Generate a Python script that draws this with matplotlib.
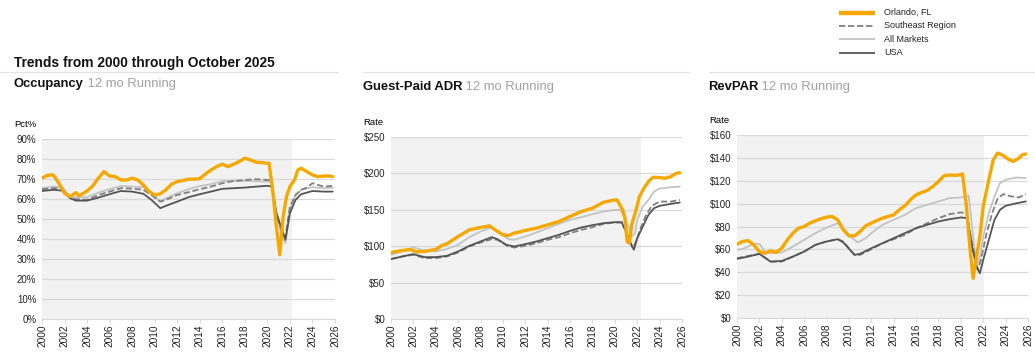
import matplotlib
matplotlib.use("Agg")
import matplotlib.pyplot as plt
from matplotlib.lines import Line2D

plt.rcParams["font.family"] = ["Liberation Sans", "DejaVu Sans"]

# --- data (decimal year, value) ---
# Occupancy (%)
occ_orl_yr = [2000, 2000.5, 2001, 2001.5, 2002, 2002.5, 2003, 2003.3, 2004, 2004.5, 2005, 2005.5,
              2006, 2006.5, 2007, 2007.5, 2008, 2008.5, 2009, 2009.5, 2010, 2010.5, 2011, 2011.5,
              2012, 2012.5, 2013, 2013.5, 2014, 2014.5, 2015, 2015.5, 2016, 2016.5, 2017, 2017.5,
              2018, 2018.5, 2019, 2019.5, 2020, 2020.15, 2020.5, 2020.8, 2021.1, 2021.4, 2021.7,
              2022, 2022.4, 2022.7, 2023, 2023.5, 2024, 2024.5, 2025, 2025.5, 2025.8]
occ_orl = [70.4, 71.9, 72.0, 67.9, 62.9, 61.2, 63.2, 61.6, 64.0, 66.5, 70.4, 73.7,
           71.5, 71.2, 69.5, 69.5, 70.4, 69.5, 67.0, 63.7, 62.0, 62.6, 64.6, 67.4,
           68.7, 69.2, 69.9, 69.9, 70.2, 72.5, 74.5, 76.2, 77.4, 76.2, 77.4, 78.7,
           80.4, 79.5, 78.4, 78.2, 77.9, 77.9, 62.9, 46.3, 32.1, 51.2, 61.2,
           66.2, 69.5, 74.5, 75.4, 73.7, 72.0, 71.2, 71.5, 71.5, 71.2]
occ_se_yr = [2000, 2001, 2001.7, 2002.5, 2003, 2004, 2005, 2006, 2007, 2008, 2009, 2009.7, 2010.5,
             2011, 2012, 2013, 2014, 2015, 2016, 2017, 2018, 2019, 2020, 2020.3, 2020.7, 2021.3,
             2021.6, 2022, 2022.5, 2023, 2023.5, 2024, 2024.5, 2025, 2025.8]
occ_se = [64.9, 65.4, 65.4, 60.4, 59.9, 59.6, 62.0, 63.7, 65.4, 65.2, 64.6, 62.0, 58.7,
          59.6, 62.0, 63.4, 64.9, 66.2, 67.9, 69.0, 69.5, 69.9, 69.5, 69.5, 54.6, 42.9,
          41.3, 56.2, 62.0, 64.6, 65.7, 67.9, 67.0, 66.2, 66.6]
occ_all_yr = [2000, 2001, 2001.8, 2002.5, 2003, 2004, 2005, 2006, 2007, 2008, 2009, 2009.7, 2010.5,
              2011, 2012, 2013, 2014, 2015, 2016, 2017, 2018, 2019, 2020, 2020.4, 2020.8, 2021.3,
              2021.6, 2022, 2022.5, 2023, 2024, 2025, 2025.8]
occ_all = [65.4, 66.2, 65.9, 61.2, 60.9, 60.9, 63.2, 64.9, 66.5, 66.2, 65.9, 63.2, 58.7,
           60.4, 62.9, 64.9, 66.5, 67.4, 69.0, 69.0, 69.0, 68.9, 68.7, 68.7, 52.9, 41.3,
           37.9, 54.6, 62.0, 64.6, 65.9, 65.4, 65.6]
occ_usa_yr = [2000, 2001, 2001.8, 2002.5, 2003, 2004, 2005, 2006, 2007, 2008, 2009, 2009.7, 2010.5,
              2011, 2012, 2013, 2014, 2015, 2016, 2017, 2018, 2019, 2020, 2020.4, 2020.8, 2021.3,
              2021.6, 2022, 2022.5, 2023, 2024, 2025, 2025.8]
occ_usa = [64.0, 64.6, 64.2, 60.4, 59.2, 59.2, 60.7, 62.4, 64.0, 63.7, 62.6, 59.6, 55.4,
           56.6, 58.7, 60.9, 62.4, 63.7, 65.1, 65.4, 65.7, 66.2, 66.6, 66.2, 52.9, 44.6,
           39.6, 52.9, 59.6, 62.4, 64.0, 63.7, 63.7]

# Guest-Paid ADR ($)
adr_orl_yr = [2000, 2001, 2001.7, 2002.3, 2003, 2004, 2004.5, 2005, 2006, 2007, 2008, 2008.8, 2009.3,
              2010, 2010.5, 2011, 2012, 2013, 2014, 2015, 2016, 2017, 2018, 2019, 2020, 2020.2,
              2020.7, 2020.9, 2021.1, 2021.3, 2021.5, 2021.9, 2022.2, 2022.6, 2023, 2023.4, 2024,
              2024.5, 2025, 2025.5, 2025.8]
adr_orl = [91.4, 94.0, 95.5, 92.3, 92.8, 95.5, 100.5, 103.3, 113.3, 122.5, 125.7, 128.0, 122.5,
           115.6, 114.7, 117.9, 121.6, 124.8, 129.3, 133.9, 140.8, 147.6, 152.2, 160.4, 163.6, 163.6,
           149.9, 138.5, 106.5, 104.2, 129.3, 149.9, 168.2, 179.6, 188.8, 194.7, 194.2,
           193.3, 195.6, 200.2, 201.0]
adr_se_yr = [2000, 2001, 2002, 2003, 2004, 2005, 2006, 2007, 2008, 2009, 2009.5, 2010.5, 2011, 2012,
             2013, 2014, 2015, 2016, 2017, 2018, 2019, 2020, 2020.6, 2021, 2021.6, 2021.9, 2022.3,
             2022.8, 2023.3, 2024, 2025, 2025.8]
adr_se = [82.3, 85.9, 88.2, 83.6, 83.6, 85.9, 91.4, 99.6, 105.1, 109.7, 108.8, 99.6, 98.3, 100.5,
          104.2, 108.8, 112.4, 117.9, 122.5, 126.1, 130.7, 132.5, 132.5, 120.2, 97.3, 106.5, 124.8,
          143.0, 155.4, 161.3, 161.3, 163.6]
adr_all_yr = [2000, 2001, 2002, 2003, 2004, 2005, 2006, 2007, 2008, 2009, 2009.5, 2010.5, 2011, 2012,
              2013, 2014, 2015, 2016, 2017, 2018, 2019, 2020, 2020.5, 2021, 2021.5, 2021.8, 2022,
              2022.5, 2023, 2023.5, 2024, 2025, 2025.8]
adr_all = [88.2, 92.8, 98.3, 94.1, 92.8, 96.0, 101.9, 112.4, 120.2, 126.1, 120.2, 109.7, 108.8, 113.3,
           118.8, 124.8, 130.7, 136.2, 139.9, 144.0, 147.6, 149.9, 149.9, 136.2, 113.3, 117.9, 136.2,
           154.5, 163.6, 175.0, 179.2, 181.0, 181.9]
adr_usa_yr = [2000, 2001, 2002, 2003, 2004, 2005, 2006, 2007, 2008, 2009, 2009.5, 2010.3, 2011, 2012,
              2013, 2014, 2015, 2016, 2017, 2018, 2019, 2020, 2020.6, 2021, 2021.4, 2021.7, 2022,
              2022.5, 2023, 2023.5, 2024, 2025, 2025.8]
adr_usa = [82.3, 85.9, 89.1, 85.0, 85.0, 86.8, 92.8, 100.5, 106.5, 112.4, 109.7, 101.9, 99.6, 102.8,
           106.5, 111.1, 115.6, 121.1, 125.7, 128.9, 131.6, 133.0, 133.0, 120.2, 104.2, 95.1, 111.1,
           127.1, 143.0, 152.2, 155.4, 158.1, 160.0]

# RevPAR ($)
rev_orl_yr = [2000, 2000.5, 2001, 2001.5, 2002, 2002.5, 2003, 2003.5, 2004, 2004.5, 2005, 2005.5,
              2006, 2006.5, 2007, 2007.5, 2008, 2008.5, 2009, 2009.5, 2010, 2010.5, 2011, 2011.5,
              2012, 2012.5, 2013, 2013.5, 2014, 2014.5, 2015, 2015.5, 2016, 2016.5, 2017, 2017.5,
              2018, 2018.5, 2019, 2019.5, 2020, 2020.15, 2020.5, 2020.8, 2021.1, 2021.4, 2021.7,
              2022, 2022.5, 2022.9, 2023.3, 2023.8, 2024.3, 2024.7, 2025.2, 2025.5, 2025.8]
rev_orl = [64.5, 66.9, 67.7, 63.9, 58.1, 56.6, 58.7, 57.5, 61.0, 68.3, 74.2, 78.5,
           80.0, 82.9, 85.0, 86.7, 88.2, 88.8, 85.8, 77.1, 71.8, 71.8, 75.6, 80.6,
           82.9, 85.3, 87.3, 88.8, 90.2, 94.6, 98.1, 103.4, 107.7, 109.8, 111.5, 115.0,
           119.4, 124.4, 125.0, 124.7, 125.3, 126.1, 97.5, 62.5, 34.7, 53.7, 71.2,
           97.5, 120.9, 138.4, 144.2, 141.9, 138.4, 136.9, 139.9, 142.8, 143.4]
rev_se_yr = [2000, 2001, 2002, 2003, 2004, 2005, 2006, 2007, 2008, 2009, 2009.5, 2010.5, 2011, 2012,
             2013, 2014, 2015, 2016, 2017, 2018, 2019, 2020, 2020.5, 2021, 2021.5, 2021.8, 2022.3,
             2022.8, 2023.3, 2023.8, 2024.5, 2025.2, 2025.8]
rev_se = [52.3, 54.3, 56.1, 49.3, 49.3, 53.7, 58.1, 63.9, 66.9, 68.9, 66.9, 55.2, 55.2, 60.1,
          65.4, 68.9, 72.7, 78.5, 82.9, 87.3, 90.8, 92.3, 91.7, 65.4, 42.0, 50.8, 74.2,
          91.7, 104.8, 108.3, 106.3, 105.4, 108.3]
rev_all_yr = [2000, 2000.5, 2001, 2001.5, 2002, 2002.5, 2003, 2004, 2005, 2006, 2007, 2008, 2009,
              2009.5, 2010.3, 2010.8, 2011.5, 2012, 2013, 2014, 2015, 2016, 2017, 2018, 2019, 2020,
              2020.7, 2021, 2021.4, 2021.7, 2022, 2022.5, 2023, 2023.5, 2024, 2025, 2025.8]
rev_all = [59.6, 60.4, 62.5, 64.8, 64.8, 58.1, 56.6, 57.2, 62.5, 68.3, 74.2, 79.1, 82.9,
           78.5, 69.8, 66.0, 69.8, 74.2, 81.5, 85.8, 90.2, 96.1, 99.0, 101.9, 104.8, 105.4,
           106.9, 80.0, 45.0, 53.7, 71.2, 91.7, 106.3, 118.0, 120.9, 122.9, 122.3]
rev_usa_yr = [2000, 2001, 2002, 2003, 2004, 2005, 2006, 2007, 2008, 2009, 2009.5, 2010.5, 2011, 2012,
              2013, 2014, 2015, 2016, 2017, 2018, 2019, 2020, 2020.6, 2021, 2021.4, 2021.7, 2022,
              2022.5, 2023, 2023.5, 2024, 2025, 2025.8]
rev_usa = [51.7, 53.7, 56.1, 49.3, 49.9, 53.7, 58.1, 63.9, 66.9, 68.9, 66.0, 55.2, 56.1, 61.0,
           65.4, 69.8, 74.2, 78.5, 81.5, 84.4, 86.4, 87.9, 87.3, 62.5, 45.0, 39.1, 50.8,
           68.3, 85.8, 94.6, 98.1, 100.4, 101.9]

series_labels = ["Orlando, FL", "Southeast Region", "All Markets", "USA"]

ORANGE = "#f4a800"
GRID = "#d9d9d9"
SHADE = "#f2f2f2"

styles = {
    "Orlando, FL": dict(color=ORANGE, lw=2.4, zorder=5),
    "Southeast Region": dict(color="#808080", lw=1.3, ls=(0, (3.5, 1.5)), zorder=3),
    "All Markets": dict(color="#c3c3c3", lw=1.3, zorder=2),
    "USA": dict(color="#555555", lw=1.3, zorder=4),
}

panels = [
    dict(title="Occupancy", ylabel="Pct%", ymax=90, step=10, fmt="{:.0f}%",
         rect=[42 / 1035, 1 - 319 / 354, 293 / 1035, 180 / 354], shade_end=2022.15, sub_y=84,
         sub_x=14, data=[(occ_orl_yr, occ_orl), (occ_se_yr, occ_se), (occ_all_yr, occ_all), (occ_usa_yr, occ_usa)]),
    dict(title="Guest-Paid ADR", ylabel="Rate", ymax=250, step=50, fmt="${:.0f}",
         rect=[391 / 1035, 1 - 319 / 354, 291 / 1035, 182 / 354], shade_end=2022.35, sub_y=87,
         sub_x=363, data=[(adr_orl_yr, adr_orl), (adr_se_yr, adr_se), (adr_all_yr, adr_all), (adr_usa_yr, adr_usa)]),
    dict(title="RevPAR", ylabel="Rate", ymax=160, step=20, fmt="${:.0f}",
         rect=[737 / 1035, 1 - 318 / 354, 291 / 1035, 183 / 354], shade_end=2022.1, sub_y=87,
         sub_x=708, data=[(rev_orl_yr, rev_orl), (rev_se_yr, rev_se), (rev_all_yr, rev_all), (rev_usa_yr, rev_usa)]),
]

fig = plt.figure(figsize=(10.35, 3.54), dpi=100)

for p in panels:
    ax = fig.add_axes(p["rect"])
    ax.axvspan(2000, p["shade_end"], color=SHADE, zorder=0, lw=0)
    # draw gray series first, Orlando on top
    for label, (xs, ys) in reversed(list(zip(series_labels, p["data"]))):
        ax.plot(xs, ys, label=label, solid_capstyle="round", **styles[label])
    ax.set_xlim(2000, 2026)
    ax.set_ylim(0, p["ymax"])
    ax.set_xticks(range(2000, 2027, 2))
    ax.set_xticklabels([str(y) for y in range(2000, 2027, 2)], rotation=90, fontsize=7.3)
    yt = list(range(0, p["ymax"] + 1, p["step"]))
    ax.set_yticks(yt)
    ax.set_yticklabels([p["fmt"].format(v) for v in yt], fontsize=7)
    ax.yaxis.grid(True, color=GRID, lw=0.9)
    ax.set_axisbelow(True)
    for s in ["top", "right", "left"]:
        ax.spines[s].set_visible(False)
    ax.spines["bottom"].set_color(GRID)
    ax.tick_params(axis="y", length=0, pad=4, colors="#222222")
    ax.tick_params(axis="x", length=3, color=GRID, pad=1, labelcolor="#222222")
    ax.text(-0.095, 1.08, p["ylabel"], transform=ax.transAxes, fontsize=6.8, ha="left", va="center")

    # subtitle: bold name + grey note
    t = fig.text(p["sub_x"] / 1035, 1 - p["sub_y"] / 354, p["title"], fontsize=9.4,
                 fontweight="bold", ha="left", va="center", color="#111111")
    fig.add_artist(plt.Annotation(" 12 mo Running", xy=(1, 0.5), xycoords=t, va="center",
                                  ha="left", fontsize=9.4, color="#a0a0a0"))

# header title and separator lines
fig.text(14 / 1035, 1 - 63 / 354, "Trends from 2000 through October 2025", fontsize=9.9,
         fontweight="bold", ha="left", va="center", color="#111111")
for x0, x1 in [(0, 338), (363, 689), (709, 1035)]:
    fig.add_artist(Line2D([x0 / 1035, x1 / 1035], [1 - 72 / 354] * 2, color="#e3e3e3", lw=0.9))

# legend, top right
for i, label in enumerate(series_labels):
    y = 1 - (12.5 + i * 13.4) / 354
    st = dict(styles[label])
    st.pop("zorder")
    if label == "Orlando, FL":
        st["lw"] = 3.2
    fig.add_artist(Line2D([839 / 1035, 875 / 1035], [y, y], solid_capstyle="butt", **st))
    fig.text(884 / 1035, y, label, fontsize=6.5, ha="left", va="center", color="#222222")

fig.savefig("out.png", dpi=100)
